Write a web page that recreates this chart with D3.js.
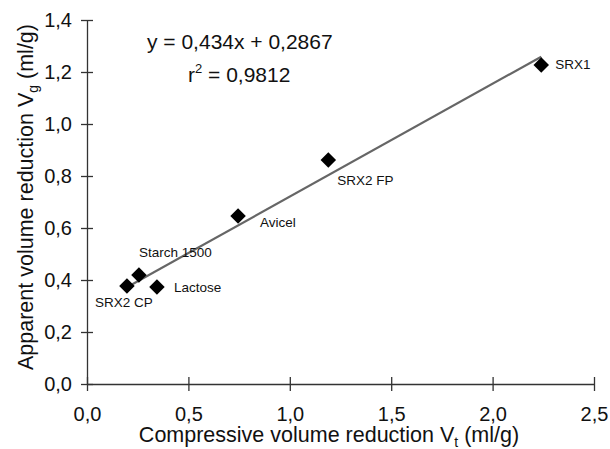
<!DOCTYPE html>
<html>
<head>
<meta charset="utf-8">
<script src="https://cdn.jsdelivr.net/npm/d3@7"></script>
<style>
  body { margin: 0; background: #fff; }
  text { font-family: "Liberation Sans", Arial, sans-serif; fill: #111; }
</style>
</head>
<body>
<main></main>
<script>
const width = 610;
const height = 449;
const margin = {top: 20, right: 16, bottom: 65, left: 87};

// data
const names = ["SRX1", "SRX2 FP", "Avicel", "Starch 1500", "SRX2 CP", "Lactose"];
const vt = [2.24, 1.19, 0.745, 0.256, 0.197, 0.345];
const vg = [1.227, 0.862, 0.646, 0.419, 0.377, 0.373];
const xTicks = [0, 0.5, 1.0, 1.5, 2.0, 2.5];
const yTicks = [0, 0.2, 0.4, 0.6, 0.8, 1.0, 1.2, 1.4];
const slope = 0.434;
const intercept = 0.2867;

// label offsets relative to each point (dx, dy)
const labelOffsets = [[14, 4], [9, 25], [22, 11], [0, -18], [-32, 21], [17, 5]];

const fmt = d => d3.format(".1f")(d).replace(".", ",");

const svg = d3.select("main")
    .append("svg")
        .attr("width", width)
        .attr("height", height);

const x = d3.scaleLinear()
    .domain([0, 2.5])
    .range([margin.left, width - margin.right]);
const y = d3.scaleLinear()
    .domain([0, 1.4])
    .range([height - margin.bottom, margin.top]);

// x axis
const axis_x = svg.append("g")
    .attr("transform", `translate(0, ${y(0)})`)
    .call(d3.axisBottom(x).tickValues(xTicks).tickFormat(fmt).tickSizeInner(7).tickSizeOuter(0).tickPadding(16));
axis_x.selectAll(".tick line").attr("y1", -7);
axis_x.selectAll("text").attr("font-size", 20).style("font-family", "Liberation Sans, Arial, sans-serif").attr("fill", "#111");
axis_x.selectAll("line, path").attr("stroke", "#333").attr("stroke-width", 1.3);

// y axis
const axis_y = svg.append("g")
    .attr("transform", `translate(${x(0)}, 0)`)
    .call(d3.axisLeft(y).tickValues(yTicks).tickFormat(fmt).tickSizeInner(6).tickSizeOuter(0).tickPadding(9));
axis_y.selectAll(".tick line").attr("x1", 6);
axis_y.selectAll("text").attr("font-size", 20).style("font-family", "Liberation Sans, Arial, sans-serif").attr("fill", "#111");
axis_y.selectAll("line, path").attr("stroke", "#333").attr("stroke-width", 1.3);

// axis titles
const xt = svg.append("text")
    .attr("x", 329)
    .attr("y", 442)
    .attr("text-anchor", "middle")
    .attr("font-size", 21.5);
xt.append("tspan").text("Compressive volume reduction V");
xt.append("tspan").attr("font-size", 14).attr("dy", 5).text("t");
xt.append("tspan").attr("dy", -5).text(" (ml/g)");

const yt = svg.append("text")
    .attr("transform", `translate(33, 197) rotate(-90)`)
    .attr("text-anchor", "middle")
    .attr("font-size", 21.5);
yt.append("tspan").text("Apparent volume reduction V");
yt.append("tspan").attr("font-size", 14).attr("dy", 5).text("g");
yt.append("tspan").attr("dy", -5).text(" (ml/g)");

// regression line
const xmin = d3.min(vt), xmax = d3.max(vt);
svg.append("line")
    .attr("x1", x(xmin)).attr("y1", y(slope * xmin + intercept))
    .attr("x2", x(xmax)).attr("y2", y(slope * xmax + intercept))
    .attr("stroke", "#666")
    .attr("stroke-width", 2.2);

// points
const pts = names.map((n, i) => ({name: n, x: vt[i], y: vg[i], off: labelOffsets[i]}));
svg.append("g")
    .selectAll("path")
    .data(pts)
    .join("path")
        .attr("d", d3.symbol(d3.symbolSquare, 120))
        .attr("transform", d => `translate(${x(d.x)}, ${y(d.y)}) rotate(45)`)
        .attr("fill", "#000");

svg.append("g")
    .selectAll("text")
    .data(pts)
    .join("text")
        .attr("x", d => x(d.x) + d.off[0])
        .attr("y", d => y(d.y) + d.off[1])
        .attr("font-size", 13.5)
        .text(d => d.name);

// equation
svg.append("text")
    .attr("x", 147).attr("y", 49)
    .attr("font-size", 21)
    .text("y = 0,434x + 0,2867");
const r2 = svg.append("text")
    .attr("x", 188).attr("y", 82)
    .attr("font-size", 21);
r2.append("tspan").text("r");
r2.append("tspan").attr("font-size", 13).attr("dy", -9).text("2");
r2.append("tspan").attr("dy", 9).text(" = 0,9812");
</script>
</body>
</html>
